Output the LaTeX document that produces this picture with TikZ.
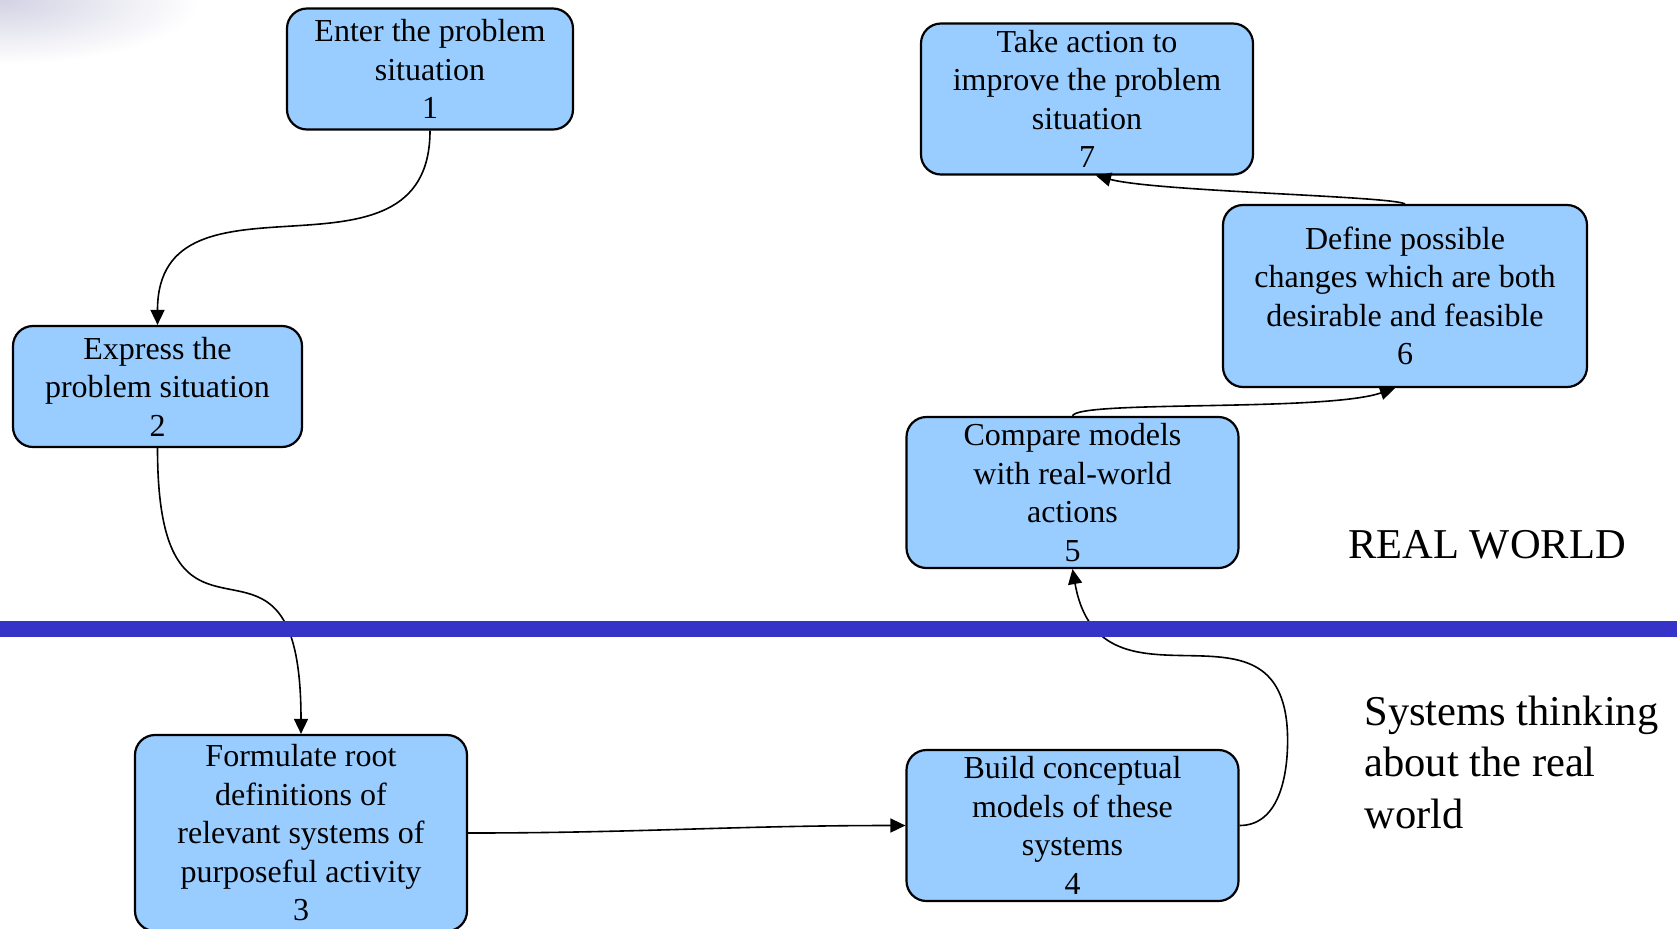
\documentclass[tikz,border=0pt]{standalone}
\usepackage{fontspec}
\setmainfont{Liberation Serif}
\usepackage{tikz}
\usetikzlibrary{shapes,arrows.meta,calc,positioning}

\definecolor{boxblue}{RGB}{153,204,255}
\definecolor{lineblue}{RGB}{54,52,200}
\definecolor{smudge}{RGB}{210,210,228}

\begin{document}
\begin{tikzpicture}[node distance=3cm,on grid,auto,
    stage/.style={draw,line width=1.1pt,fill=boxblue,rounded corners=10pt,
      align=center,inner sep=0pt,minimum width=166pt,minimum height=75.5pt,
      font=\fontsize{16}{19.25}\selectfont},
    side/.style={inner sep=0pt,align=left,font=\fontsize{21.25}{25.75}\selectfont},
    flow/.style={->,line width=0.8pt},
    >={Triangle[length=7.5pt,width=7pt]}]
      \useasboundingbox[fill=white] (0,0) rectangle (838.5pt,-464pt);
      \shade[inner color=smudge,outer color=white] (0,0) ellipse (100pt and 32pt);

      \node[stage,minimum width=143pt,minimum height=60.5pt] (s_1) at (215pt,-34.5pt) {
        Enter the problem\\situation\\1
      };
      \node[stage,minimum width=144.5pt,minimum height=60.5pt] (s_2) [below left=158.75pt and 136.25pt of s_1] {
        Express the\\problem situation\\2
      };
      \node[stage,minimum height=98pt] (s_3) [below right=223.25pt and 71.75pt of s_2] {
        Formulate root\\definitions of\\relevant systems of\\purposeful activity\\3
      };
      \node[stage] (s_4) [above right=3.75pt and 385.75pt of s_3] {
        Build conceptual\\models of these\\systems\\4
      };
      \node[stage] (s_5) [above=166.5pt of s_4] {
        Compare models\\with real-world\\actions\\5
      };
      \node[stage,minimum width=182pt,minimum height=91pt] (s_6) [above right=98.25pt and 166.25pt of s_5] {
        Define possible\\changes which are both\\desirable and feasible\\6
      };
      \node[stage] (s_7) [above left=98.5pt and 159pt of s_6] {
        Take action to\\improve the problem\\situation\\7
      };

      \node[side] (real) at (743.5pt,-272.5pt) {REAL WORLD};
      \node[side,anchor=west] (think) at (682pt,-381pt) {Systems thinking\\about the real\\world};

      \coordinate (k_45) at ($(s_4.east)+(24pt,42.5pt)$);

      \path[flow] (s_1.south) edge [out=-90,in=90,looseness=1.3] (s_2.north);
      \path[flow] (s_2.south) edge [out=-90,in=90,looseness=2] (s_3.north);
      \path[flow] (s_3.east) edge [out=0,in=180] (s_4.west);
      \draw[flow] (s_4.east) to[out=0,in=-90] (k_45) to[out=90,in=-80,looseness=1.5] (s_5.south);
      \draw[flow] (s_5.north) .. controls +(2.5pt,8pt) and +(-35pt,-12pt) .. ([xshift=-5pt]s_6.south);
      \draw[flow] (s_6.north) .. controls +(-7.5pt,4pt) and +(30pt,-8pt) .. ([xshift=4.5pt]s_7.south);

      % border between the two worlds
      \fill[lineblue] (0,-310.5pt) rectangle (838.5pt,-318.5pt);
    \end{tikzpicture}
\end{document}
